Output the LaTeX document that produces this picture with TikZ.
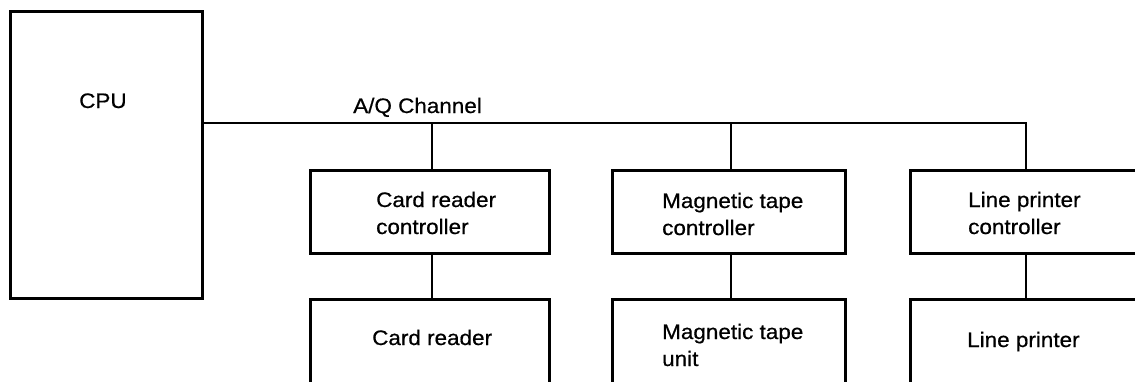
\documentclass[tikz,border=0pt]{standalone}
\usepackage{fontspec}
\setmainfont[FakeStretch=1.07,FakeBold=0.6]{Liberation Sans}
\begin{document}
\begin{tikzpicture}[x=1pt,y=-1pt,
  box/.style={draw, line width=3pt, rectangle, inner sep=0pt, anchor=north west},
  wire/.style={line width=2.8pt},
  lbl/.style={inner sep=0pt, anchor=base west, align=left, font=\fontsize{21}{27}\selectfont}]
\useasboundingbox (0,0) rectangle (1135,381);
\clip (0,0) rectangle (1135,381);
% CPU
\node[box, minimum width=192pt, minimum height=287pt] (cpu) at (9,10) {};
\node[lbl] (cpulbl) at (79,108) {CPU};
% controllers
\node[box, minimum width=239pt, minimum height=83pt] (crc) at (309,168.5) {};
\node[box, minimum width=233pt, minimum height=83pt] (mtc) at (611,168.5) {};
\node[box, minimum width=240pt, minimum height=83pt] (lpc) at (909,168.5) {};
% devices (cut off by the lower edge)
\node[box, minimum width=239pt, minimum height=110pt] (cr) at (309,297.5) {};
\node[box, minimum width=233pt, minimum height=110pt] (mt) at (611,297.5) {};
\node[box, minimum width=240pt, minimum height=110pt] (lp) at (909,297.5) {};
% labels (base = baseline of the last line)
\node[lbl] (chl) at (353,113) {A/Q Channel};
\node[lbl] (crcl) at (376,234) {Card reader\\controller};
\node[lbl] (mtcl) at (662,235) {Magnetic tape\\controller};
\node[lbl] (lpcl) at (968,234) {Line printer\\controller};
\node[lbl] (crl) at (372,345) {Card reader};
\node[lbl] (mtl) at (662,366) {Magnetic tape\\unit};
\node[lbl] (lpl) at (967,347) {Line printer};
% channel
\coordinate (j1) at (432,123);
\coordinate (j2) at (731,123);
\coordinate (j3) at (1026,123);
\draw[wire] (cpu.east |- j1) -- (j1) -- (j2) -- (j3) -- (j3 |- lpc.north);
\draw[wire] (j1) -- (j1 |- crc.north);
\draw[wire] (j2) -- (j2 |- mtc.north);
\draw[wire] (crc.south -| j1) -- (cr.north -| j1);
\draw[wire] (mtc.south -| j2) -- (mt.north -| j2);
\draw[wire] (lpc.south -| j3) -- (lp.north -| j3);
\end{tikzpicture}
\end{document}
